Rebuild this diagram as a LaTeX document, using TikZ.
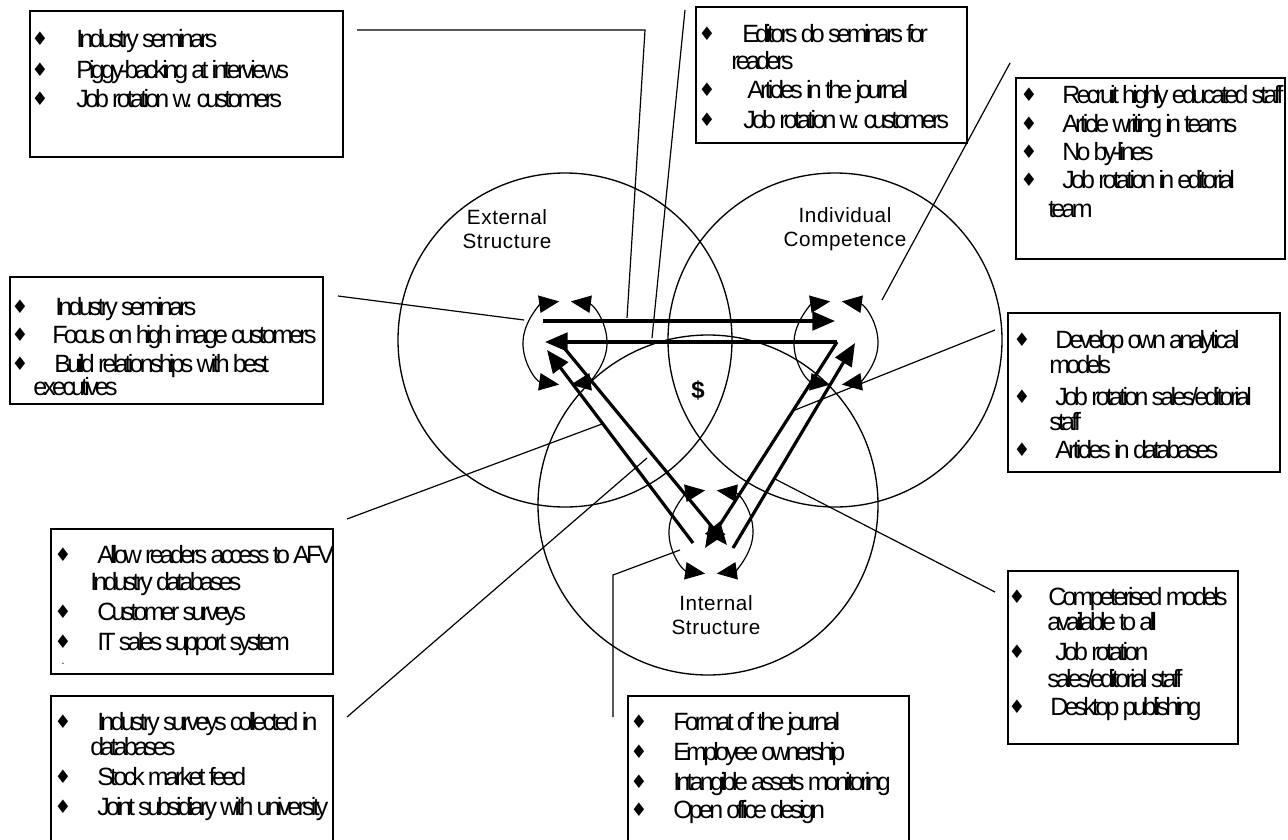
\documentclass[tikz,border=0pt]{standalone}
\usepackage{fontspec}
\setmainfont{Liberation Sans}
\newfontfamily\boxfont[LetterSpace=-15]{Liberation Sans}
\newfontfamily\labfont[LetterSpace=3]{Liberation Sans}
\newfontfamily\symfont{DejaVu Sans}
\usetikzlibrary{arrows.meta,fit}

% one unit = one pixel, y grows downwards
\tikzset{
  x=0.75pt, y=-0.75pt,
  frame/.style={draw, line width=1pt, inner sep=0pt},
  txt/.style={anchor=base west, inner sep=0pt, font=\boxfont\fontsize{18.75}{22}\selectfont},
  bul/.style={anchor=center, inner sep=0pt, font=\symfont\fontsize{14}{16}\selectfont},
  lead/.style={line width=0.9pt},
  ring/.style={line width=1pt},
  flow/.style={line width=2.4pt, -{Triangle[length=17pt,width=14pt]}},
  cyc/.style={line width=0.9pt, {Triangle[length=15pt,width=13pt]}-{Triangle[length=15pt,width=13pt]}},
  lab/.style={align=center, font=\labfont\fontsize{15.5}{18.5}\selectfont, inner sep=0pt},
}
% text line: name, x, baseline y, text
\newcommand\tline[4]{\node[txt] (#1) at (#2,#3) {#4};}
% bullet: name, x, baseline y
\newcommand\tbul[3]{\node[bul] (#1) at (#2,#3-8) {♦};}
% box: name, corners
\newcommand\tframe[5]{\node[frame, fit={(#2,#3) (#4,#5)}] (#1) {};}
% small cycle of two arrowed half-arcs round a centre
\newcommand\cycle[1]{%
  \draw[cyc] (#1) ++(98:42) arc[start angle=98, end angle=262, radius=42];
  \draw[cyc] (#1) ++(-82:42) arc[start angle=-82, end angle=82, radius=42];}

\begin{document}
\begin{tikzpicture}
\useasboundingbox (0,0) rectangle (1288,839);

% ---- the three domains ----
\coordinate (cE) at (565,343);
\coordinate (cC) at (836,343);
\coordinate (cI) at (711,532);
\coordinate (cIbig) at (708,505);
\draw[ring] (565,340) circle[radius=167];
\draw[ring] (835,340) circle[radius=167];
\draw[ring] (cIbig) circle[radius=170];

\node[lab] (labE) at (507,229) {External\\Structure};
\node[lab] (labC) at (845,229) {Individual\\Competence};
\node[lab] (labI) at (716,615) {Internal\\Structure};
\node[font=\bfseries\fontsize{18}{18}\selectfont, inner sep=0pt] (dollar) at (698,390) {\$};

% ---- cycles inside each domain ----
\cycle{cE}
\cycle{cC}
\cycle{cI}

% ---- flows between the domains ----
\coordinate (eR1) at (543,321);  \coordinate (cL1) at (835,321);
\coordinate (cR2) at (837,342);  \coordinate (eL2) at (545,342);
\coordinate (iB3) at (705,548);
\coordinate (iS4) at (733,548);  \coordinate (cT4) at (855,343);
\coordinate (iS5) at (693,543);  \coordinate (eT5) at (547,350);
\coordinate (eS6) at (565,349);  \coordinate (iT6) at (727,545);
\draw[flow] (eR1) -- (cL1);
\draw[flow] (cR2) -- (eL2);
\draw[flow] (cR2) -- (iB3);
\draw[flow] (iS4) -- (cT4);
\draw[flow] (iS5) -- (eT5);
\draw[flow] (eS6) -- (iT6);

% ---- boxes ----
\tframe{b1}{30}{11}{343}{157}
\tbul{b1d1}{40}{47}  \tline{b1l1}{76}{47}{Industry seminars}
\tbul{b1d2}{40}{78}  \tline{b1l2}{76}{78}{Piggy-backing at interviews}
\tbul{b1d3}{40}{107} \tline{b1l3}{76}{107}{Job rotation w. customers}

\tframe{b2}{696}{7}{967}{143}
\tbul{b2d1}{707}{42}  \tline{b2l1}{742}{42}{Editors do seminars for}
                      \tline{b2l2}{731}{69}{readers}
\tbul{b2d3}{707}{98}  \tline{b2l3}{747}{98}{Articles in the journal}
\tbul{b2d4}{707}{128} \tline{b2l4}{743}{128}{Job rotation w. customers}

\tframe{b3}{1016}{78}{1285}{259}
\tbul{b3d1}{1029}{103} \tline{b3l1}{1062}{103}{Recruit highly educated staff}
\tbul{b3d2}{1029}{132} \tline{b3l2}{1062}{132}{Article writing in teams}
\tbul{b3d3}{1029}{160} \tline{b3l3}{1062}{160}{No by-lines}
\tbul{b3d4}{1029}{188} \tline{b3l4}{1062}{188}{Job rotation in editorial}
                       \tline{b3l5}{1048}{217}{team}

\tframe{b4}{10}{277}{323}{404}
\tbul{b4d1}{20}{315} \tline{b4l1}{55}{315}{Industry seminars}
\tbul{b4d2}{20}{343} \tline{b4l2}{52}{343}{Focus on high image customers}
\tbul{b4d3}{20}{372} \tline{b4l3}{54}{372}{Build relationships with best}
                     \tline{b4l4}{33}{395}{executives}

\tframe{b5}{1008}{313}{1280}{472}
\tbul{b5d1}{1022}{348} \tline{b5l1}{1055}{348}{Develop own analytical}
                       \tline{b5l2}{1049}{373}{models}
\tbul{b5d3}{1022}{405} \tline{b5l3}{1055}{405}{Job rotation sales/editorial}
                       \tline{b5l4}{1049}{430}{staff}
\tbul{b5d5}{1022}{458} \tline{b5l5}{1055}{458}{Articles in databases}

\tframe{b6}{51}{529}{333}{674}
\tbul{b6d1}{63}{563} \tline{b6l1}{97}{563}{Allow readers access to AFV}
                     \tline{b6l2}{90}{590}{Industry databases}
\tbul{b6d3}{63}{620} \tline{b6l3}{97}{620}{Customer surveys}
\tbul{b6d4}{63}{650} \tline{b6l4}{97}{650}{IT sales support system}
\node[inner sep=0pt, font=\fontsize{8}{8}\selectfont] (b6dot) at (63,664) {.};

\tframe{b7}{51}{696}{333}{845}
\tbul{b7d1}{63}{730} \tline{b7l1}{97}{730}{Industry surveys collected in}
                     \tline{b7l2}{90}{755}{databases}
\tbul{b7d3}{63}{785} \tline{b7l3}{97}{785}{Stock market feed}
\tbul{b7d4}{63}{815} \tline{b7l4}{97}{815}{Joint subsidiary with university}

\tframe{b8}{628}{696}{909}{845}
\tbul{b8d1}{639}{730} \tline{b8l1}{673}{730}{Format of the journal}
\tbul{b8d2}{639}{760} \tline{b8l2}{673}{760}{Employee ownership}
\tbul{b8d3}{639}{790} \tline{b8l3}{673}{790}{Intangible assets monitoring}
\tbul{b8d4}{639}{818} \tline{b8l4}{673}{818}{Open office design}

\tframe{b9}{1008}{571}{1238}{744}
\tbul{b9d1}{1017}{605} \tline{b9l1}{1048}{605}{Competerised models}
                       \tline{b9l2}{1047}{630}{available to all}
\tbul{b9d3}{1017}{660} \tline{b9l3}{1055}{660}{Job rotation}
                       \tline{b9l4}{1047}{687}{sales/editorial staff}
\tbul{b9d5}{1017}{715} \tline{b9l5}{1050}{715}{Desktop publishing}

% ---- leader lines from the boxes ----
\coordinate (k1a) at (357,30);   \coordinate (k1b) at (645,30);  \coordinate (k1c) at (627,318);
\coordinate (k2a) at (685,10);   \coordinate (k2b) at (652,338);
\coordinate (k3a) at (1010,63);  \coordinate (k3b) at (882,300);
\coordinate (k4a) at (338,296);  \coordinate (k4b) at (524,320);
\coordinate (k5a) at (995,330);  \coordinate (k5b) at (795,410);
\coordinate (k6a) at (347,519);  \coordinate (k6b) at (602,424);
\coordinate (k7a) at (347,717);  \coordinate (k7b) at (647,458);
\coordinate (k8a) at (613,717);  \coordinate (k8b) at (613,575); \coordinate (k8c) at (680,550);
\coordinate (k9a) at (995,592);  \coordinate (k9b) at (775,479);
\draw[lead] (k1a) -- (k1b) -- (k1c);
\draw[lead] (k2a) -- (k2b);
\draw[lead] (k3a) -- (k3b);
\draw[lead] (k4a) -- (k4b);
\draw[lead] (k5a) -- (k5b);
\draw[lead] (k6a) -- (k6b);
\draw[lead] (k7a) -- (k7b);
\draw[lead] (k8a) -- (k8b) -- (k8c);
\draw[lead] (k9a) -- (k9b);
\end{tikzpicture}
\end{document}
